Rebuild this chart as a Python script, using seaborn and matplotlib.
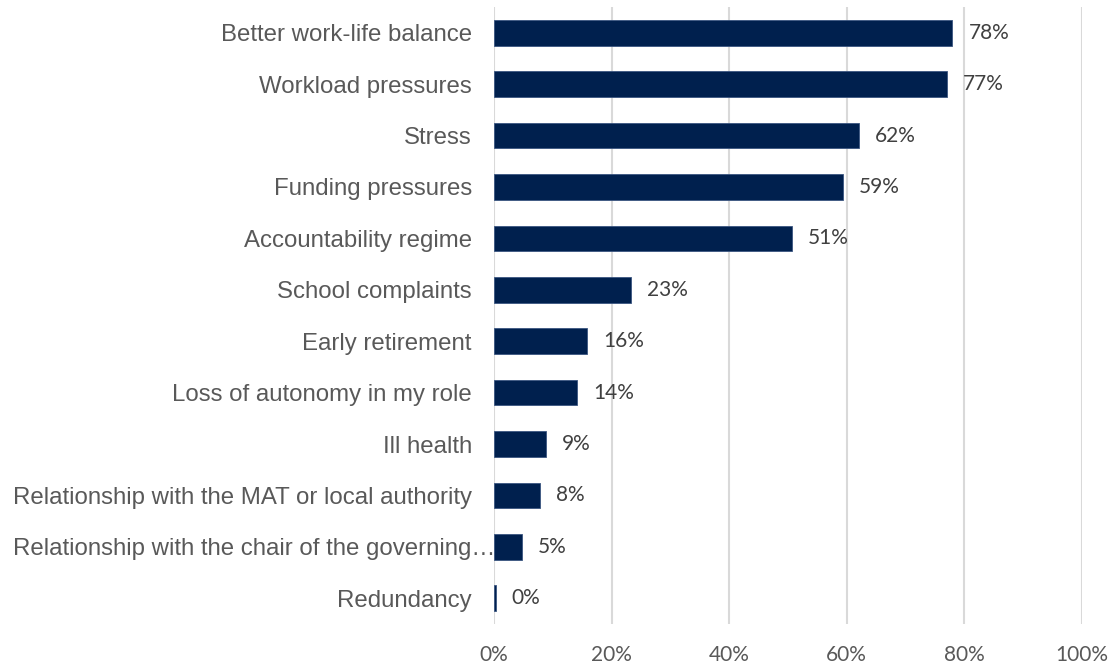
import matplotlib
matplotlib.use("Agg")
import matplotlib.pyplot as plt
import matplotlib.transforms as mtransforms
import seaborn as sns
import pandas as pd
from matplotlib.ticker import FixedLocator

# Reasons given for leaving, share of respondents (%)
reasons = [
    "Better work-life balance",
    "Workload pressures",
    "Stress",
    "Funding pressures",
    "Accountability regime",
    "School complaints",
    "Early retirement",
    "Loss of autonomy in my role",
    "Ill health",
    "Relationship with the MAT or local authority",
    "Relationship with the chair of the governing\u2026",
    "Redundancy",
]
shares = [78.0, 77.1, 62.1, 59.4, 50.7, 23.3, 15.8, 14.1, 8.8, 7.9, 4.8, 0.3]
x_ticks = [0, 20, 40, 60, 80, 100]
x_tick_labels = ["0%", "20%", "40%", "60%", "80%", "100%"]

df = pd.DataFrame({"reason": reasons, "share": shares})

sns.set_theme(style="white")
plt.rcParams["font.family"] = ["Liberation Sans", "DejaVu Sans"]

W, H, DPI = 1114, 667, 100
fig = plt.figure(figsize=(W / DPI, H / DPI), dpi=DPI)
ax = fig.add_axes([494 / W, 1 - 624 / H, (1081.7 - 494) / W, (624 - 7) / H])

bar_color = "#00204E"
sns.barplot(data=df, x="share", y="reason", order=reasons, orient="h",
            color=bar_color, width=0.5, ax=ax, saturation=1,
            edgecolor="#3A5580", linewidth=0.6)

ax.set_xlim(0, 100)
ax.set_ylim(len(reasons) - 0.5, -0.5)
ax.xaxis.set_major_locator(FixedLocator(x_ticks))
ax.set_xticklabels(x_tick_labels)
ax.grid(axis="x", color="#D9D9D9", linewidth=1.5)
ax.grid(axis="y", visible=False)
ax.set_axisbelow(True)
for s in ax.spines.values():
    s.set_visible(False)

ax.set_xlabel("")
ax.set_ylabel("")
ax.tick_params(axis="y", length=0, pad=16, labelsize=17.25, labelcolor="#595959")
ax.tick_params(axis="x", length=0, pad=15, labelcolor="#595959")
for lbl in ax.get_xticklabels():
    lbl.set_fontfamily(["Lato", "DejaVu Sans"])
    lbl.set_fontsize(15)

# the truncated long label runs right up to the axis
for lbl in ax.get_yticklabels():
    if lbl.get_text().endswith("\u2026"):
        shift = mtransforms.ScaledTranslation(24 / DPI, 0, fig.dpi_scale_trans)
        lbl.set_transform(lbl.get_transform() + shift)

# value labels at the end of each bar
for i, v in enumerate(shares):
    ax.annotate(f"{v:.0f}%", xy=(v, i), xytext=(11.5, 0),
                textcoords="offset points", va="center", ha="left",
                fontsize=15, color="#404040", family=["Lato", "DejaVu Sans"])

fig.savefig("out.png", dpi=DPI, facecolor="white")
